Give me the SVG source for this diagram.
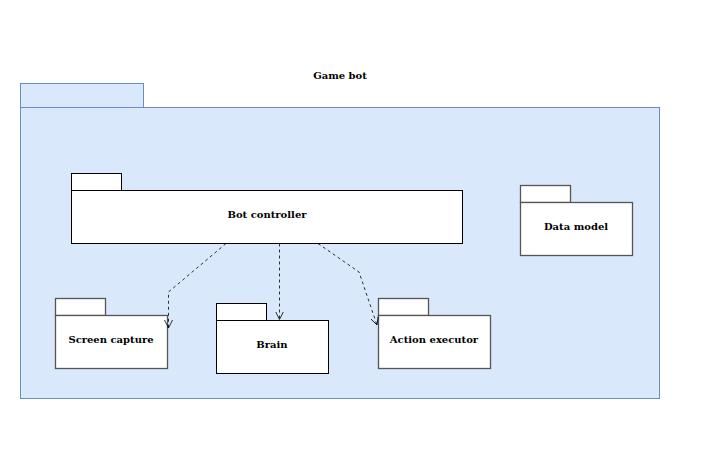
<svg xmlns="http://www.w3.org/2000/svg" width="703" height="466" viewBox="0 0 703 466">
<style>
.outer{fill:#dae8fc;stroke:#6c8ebf;stroke-width:1}
.pkg{fill:#ffffff;stroke:#000000;stroke-width:1}
.pkg2{fill:#ffffff;stroke:#555555;stroke-width:1.3}
.lbl{font-family:"DejaVu Serif",serif;font-weight:bold;font-size:10px;fill:#000000;text-anchor:middle}
.dep{fill:none;stroke:#000000;stroke-width:0.8;stroke-dasharray:3 3}
</style>
<defs>
<marker id="open" markerWidth="10" markerHeight="10" refX="8" refY="4" orient="auto" markerUnits="userSpaceOnUse">
<path d="M0,0 L8,4 L0,8" fill="none" stroke="#000" stroke-width="0.8"/>
</marker>
</defs>
<rect width="703" height="466" fill="#ffffff"/>
<g id="game-bot">
<rect class="outer" x="20.5" y="83.5" width="123" height="24"/>
<rect class="outer" x="20.5" y="107.5" width="639" height="291"/>
<text class="lbl" x="340" y="79">Game bot</text>
</g>
<g id="bot-controller">
<rect class="pkg" x="71.5" y="173.5" width="50" height="17"/>
<rect class="pkg" x="71.5" y="190.5" width="391" height="53"/>
<text class="lbl" x="267" y="218">Bot controller</text>
</g>
<g id="data-model">
<rect class="pkg2" x="520.5" y="185.5" width="50" height="17"/>
<rect class="pkg2" x="520.5" y="202.5" width="112" height="53"/>
<text class="lbl" x="576" y="230">Data model</text>
</g>
<g id="screen-capture">
<rect class="pkg2" x="55.5" y="298.5" width="50" height="17"/>
<rect class="pkg2" x="55.5" y="315.5" width="112" height="53"/>
<text class="lbl" x="111" y="343">Screen capture</text>
</g>
<g id="brain">
<rect class="pkg" x="216.5" y="303.5" width="50" height="17"/>
<rect class="pkg" x="216.5" y="320.5" width="112" height="53"/>
<text class="lbl" x="272" y="348">Brain</text>
</g>
<g id="action-executor">
<rect class="pkg2" x="378.5" y="298.5" width="50" height="17"/>
<rect class="pkg2" x="378.5" y="315.5" width="112" height="53"/>
<text class="lbl" x="434" y="343">Action executor</text>
</g>
<g id="connectors">
<path class="dep" d="M226,243.5 L168.5,292 L168.5,328" marker-end="url(#open)"/>
<path class="dep" d="M279.5,243.5 L279.5,319.5" marker-end="url(#open)"/>
<path class="dep" d="M318,243.5 L359,272 L377,325" marker-end="url(#open)"/>
</g>
</svg>
